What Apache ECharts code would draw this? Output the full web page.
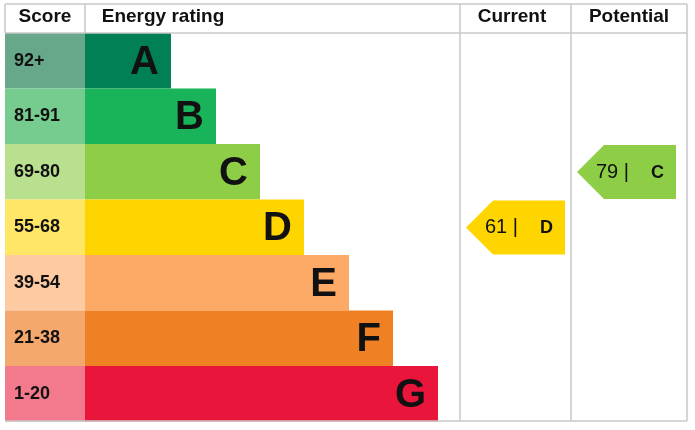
<!DOCTYPE html><html><head><meta charset="utf-8">
<script src="https://cdn.jsdelivr.net/npm/echarts@6/dist/echarts.min.js"></script>
<style>body{margin:0}#c{width:695px;height:430px}</style></head><body><div id="c"></div>
<script>
const bands=['A','B','C','D','E','F','G'];
const scores=['92+','81-91','69-80','55-68','39-54','21-38','1-20'];
const bandLen=[86,131,175,219,264,308,353];
const bandColors=['#008054','#19b459','#8dce46','#ffd500','#fcaa65','#ef8023','#e9153b'];
const scoreColors=['#67a88a','#76cc8e','#b8e08f','#ffe666','#fdcaa2','#f5a86e','#f37a8c'];
const headers=['Score','Energy rating','Current','Potential'];
const current={value:61,band:'D'};
const potential={value:79,band:'C'};
const F='Liberation Sans, Arial, sans-serif';
const top0=33,rowH=55.5;
const chart=echarts.init(document.getElementById('c'));
function rowsItem(p,api){
  const i=p.dataIndex;
  const y0=top0+rowH*i;
  const a=api.coord([5,y0]),b=api.coord([85,y0+rowH]),e=api.coord([85+bandLen[i],y0+rowH]);
  return {type:'group',children:[
    {type:'rect',shape:{x:a[0],y:a[1],width:b[0]-a[0],height:b[1]-a[1]},style:{fill:scoreColors[i]}},
    {type:'rect',shape:{x:b[0],y:a[1],width:e[0]-b[0],height:b[1]-a[1]},style:{fill:bandColors[i]}},
    {type:'text',style:{x:a[0]+9,y:(a[1]+b[1])/2,text:scores[i],font:'bold 18px '+F,fill:'#111',verticalAlign:'middle'}},
    {type:'text',style:{x:e[0]-12,y:(a[1]+b[1])/2+2,text:bands[i],font:'bold 40px '+F,fill:'#111',align:'right',verticalAlign:'middle'}}
  ]};
}
function arrowItem(x0,obj){
  return function(p,api){
    const i=bands.indexOf(obj.band);
    const y0=top0+rowH*i;
    const tl=api.coord([x0,y0+1]),br=api.coord([x0+99,y0+rowH-0.5]);
    const mid=(tl[1]+br[1])/2,n=tl[0]+27;
    return {type:'group',children:[
      {type:'polygon',shape:{points:[[tl[0],mid],[n,tl[1]],[br[0],tl[1]],[br[0],br[1]],[n,br[1]]]},style:{fill:bandColors[i]}},
      {type:'text',style:{x:tl[0]+19,y:mid,text:obj.value+' |',font:'20px '+F,fill:'#111',verticalAlign:'middle'}},
      {type:'text',style:{x:br[0]-12,y:mid+1,text:obj.band,font:'bold 18px '+F,fill:'#111',align:'right',verticalAlign:'middle'}}
    ]};
  };
}
function frameItem(p,api){
  const L=(x1,y1,x2,y2)=>{const s=api.coord([x1,y1]),t=api.coord([x2,y2]);return {type:'line',shape:{x1:s[0],y1:s[1],x2:t[0],y2:t[1]},style:{stroke:'#c8c8c8',lineWidth:1.5}};};
  const hx=[45,163,512,629];
  const ch=[L(5,4,687,4),L(5,33,687,33),L(5,421,687,421),L(5,4,5,33),L(85,4,85,33),L(460,4,460,421),L(571,4,571,421),L(687,4,687,421)];
  headers.forEach((h,k)=>{const c=api.coord([hx[k],17]);ch.push({type:'text',style:{x:c[0],y:c[1],text:h,font:'bold 19px '+F,fill:'#111',align:'center',verticalAlign:'middle'}});});
  return {type:'group',children:ch};
}
chart.setOption({animation:false,
  grid:{left:0,top:0,width:695,height:430},
  xAxis:{type:'value',min:0,max:695,show:false},
  yAxis:{type:'value',min:0,max:430,inverse:true,show:false},
  series:[
    {type:'custom',renderItem:rowsItem,data:bands.map((b,i)=>[i])},
    {type:'custom',renderItem:frameItem,data:[[0]]},
    {type:'custom',renderItem:arrowItem(466,current),data:[[0]]},
    {type:'custom',renderItem:arrowItem(577,potential),data:[[0]]}
  ]});
</script></body></html>
